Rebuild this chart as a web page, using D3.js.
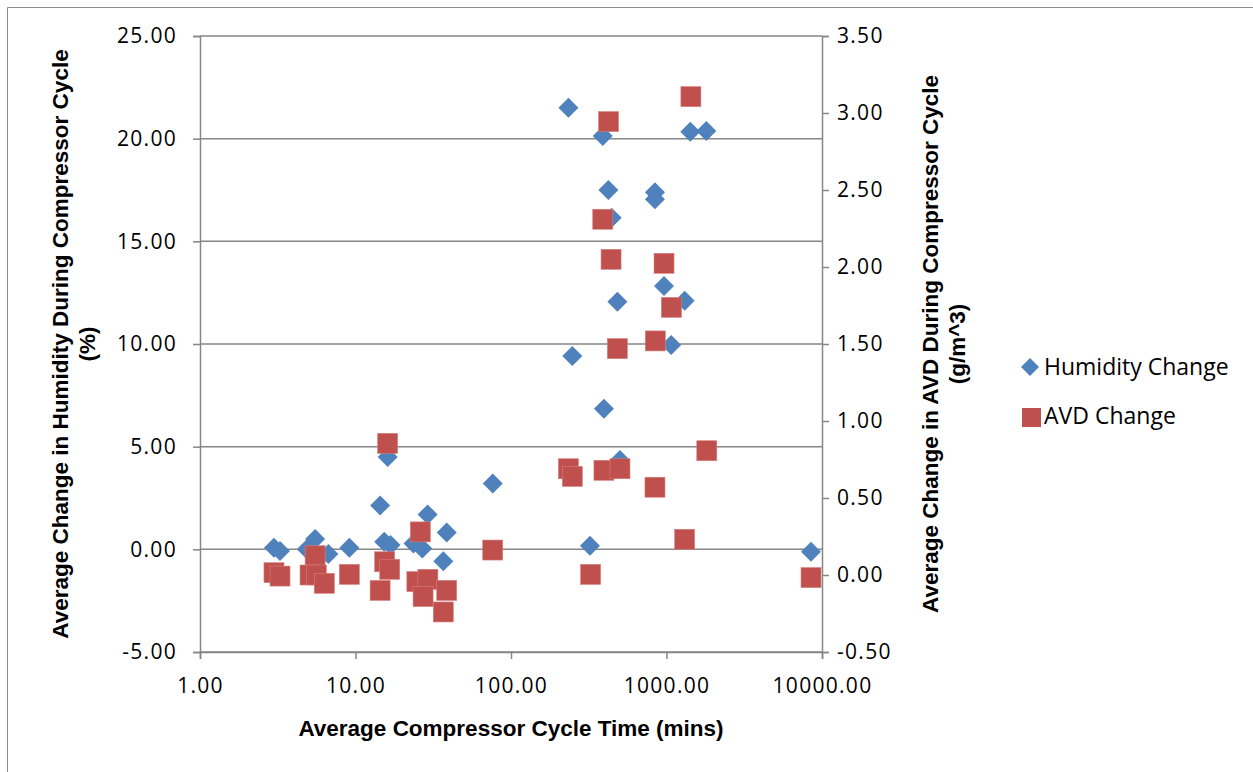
<!DOCTYPE html>
<html><head><meta charset="utf-8">
<script src="https://cdn.jsdelivr.net/npm/d3@7"></script>
<style>body{margin:0;background:#fff;}svg{display:block;font-family:"Open Sans",Arial,sans-serif;}</style>
</head><body>
<svg id="c" width="1253" height="772"></svg>
<script>
const humX = [2.99,3.27,5.5,4.86,6.69,9.13,14.4,16.1,15.3,16.8,23.6,26.9,29.1,38.6,36.7,76.3,
  234,389,1423,1803,423,843,843,444,964,483,1309,1072,248,396,502,322,8500];
const humY = [0.08,-0.08,0.5,0.0,-0.23,0.08,2.14,4.5,0.37,0.21,0.29,0.04,1.7,0.82,-0.58,3.21,
  21.51,20.13,20.34,20.37,17.5,17.39,17.05,16.15,12.82,12.06,12.11,9.95,9.41,6.85,4.35,0.17,-0.12];
const avdX = [16.1,2.99,3.27,5.5,5.1,5.6,6.3,9.13,14.4,15.4,16.6,26.1,24.8,29.2,27.2,38.6,36.7,76.3,
  1435,424,389,440,964,1075,847,483,234,248,396,502,1816,843,1309,325,8500];
const avdY = [0.855,0.015,-0.007,0.125,0.0,0.0,-0.054,0.004,-0.1,0.086,0.037,0.28,-0.043,-0.028,-0.14,-0.1,-0.24,0.162,
  3.106,2.944,2.31,2.05,2.024,1.738,1.52,1.47,0.69,0.64,0.68,0.69,0.807,0.57,0.232,0.004,-0.017];
const xTicks = [1,10,100,1000,10000];
const yLeftTicks = [-5,0,5,10,15,20,25];
const yRightTicks = [-0.5,0,0.5,1,1.5,2,2.5,3,3.5];
const seriesNames = ["Humidity Change","AVD Change"];
const colors = ["#4F81BD","#C0504D"];

const svg = d3.select("#c");
const L=200,R=822,T=36,B=652;
const x = d3.scaleLog().domain([1,10000]).range([L,R]);
const yL = d3.scaleLinear().domain([-5,25]).range([B,T]);
const yR = d3.scaleLinear().domain([-0.5,3.5]).range([B,T]);
const grey="#868686";

// outer border
svg.append("path").attr("d","M7.5,772 V7.5 H1253").attr("fill","none").attr("stroke","#8c8c8c").attr("stroke-width",1);

// gridlines
svg.append("g").selectAll("line").data(yLeftTicks).join("line")
  .attr("x1",L).attr("x2",R).attr("y1",d=>yL(d)).attr("y2",d=>yL(d))
  .attr("stroke",grey).attr("stroke-width",1.5);

const fmt = d => d.toFixed(2);
// left axis
const gl = svg.append("g").attr("transform",`translate(${L},0)`)
  .call(d3.axisLeft(yL).tickValues(yLeftTicks).tickFormat(fmt).tickSize(7).tickPadding(16));
// right axis
const gr = svg.append("g").attr("transform",`translate(${R},0)`)
  .call(d3.axisRight(yR).tickValues(yRightTicks).tickFormat(fmt).tickSize(7).tickPadding(8));
// bottom axis
const gb = svg.append("g").attr("transform",`translate(0,${B})`)
  .call(d3.axisBottom(x).tickValues(xTicks).tickFormat(fmt).tickSize(7).tickPadding(14));
[gl,gr,gb].forEach(g=>{
  g.select(".domain").attr("stroke",grey).attr("stroke-width",1.5);
  g.selectAll(".tick line").attr("stroke",grey).attr("stroke-width",1.5);
  g.selectAll(".tick text").attr("fill","#000").style("font-size","21px")
    .style("letter-spacing","1.3px").style("font-family","'Open Sans',Arial,sans-serif");
});
gb.selectAll(".tick text").attr("dy","0.95em");

// points
const humData = humX.map((v,i)=>[v,humY[i]]);
const avdData = avdX.map((v,i)=>[v,avdY[i]]);
svg.append("g").selectAll("path").data(humData).join("path")
  .attr("transform",d=>`translate(${x(d[0])},${yL(d[1])})`)
  .attr("d","M0,-10 L10,0 L0,10 L-10,0 Z").attr("fill",colors[0]);
svg.append("g").selectAll("rect").data(avdData).join("rect")
  .attr("x",d=>x(d[0])-10).attr("y",d=>yR(d[1])-10).attr("width",20).attr("height",20)
  .attr("fill",colors[1]).attr("stroke","#d4807d").attr("stroke-width",0.6);

// axis titles
const bold = "font-weight:bold;font-size:22.5px;font-family:'Liberation Sans',Arial,sans-serif";
svg.append("text").attr("x",511).attr("y",736).attr("text-anchor","middle").attr("style",bold)
  .text("Average Compressor Cycle Time (mins)");
const lt = svg.append("text").attr("transform",`translate(68,${(T+B)/2}) rotate(-90)`).attr("text-anchor","middle").attr("style",bold);
lt.append("tspan").attr("x",0).attr("dy",0).text("Average Change in Humidity During Compressor Cycle");
lt.append("tspan").attr("x",0).attr("dy",27).text("(%)");
const rt = svg.append("text").attr("transform",`translate(938,${(T+B)/2}) rotate(-90)`).attr("text-anchor","middle").attr("style",bold);
rt.append("tspan").attr("x",0).attr("dy",0).text("Average Change in AVD During Compressor Cycle");
rt.append("tspan").attr("x",0).attr("dy",27).text("(g/m^3)");

// legend
const lg = svg.append("g");
lg.append("path").attr("transform","translate(1030,367)").attr("d","M0,-9 L9,0 L0,9 L-9,0 Z").attr("fill",colors[0]);
lg.append("rect").attr("x",1022).attr("y",408).attr("width",19).attr("height",19).attr("fill",colors[1]);
lg.selectAll("text").data(seriesNames).join("text")
  .attr("x",1044).attr("y",(d,i)=>367+i*49).attr("dy","0.36em")
  .style("font-size","23px").style("font-family","'Open Sans',Arial,sans-serif").text(d=>d);
</script>
</body></html>
